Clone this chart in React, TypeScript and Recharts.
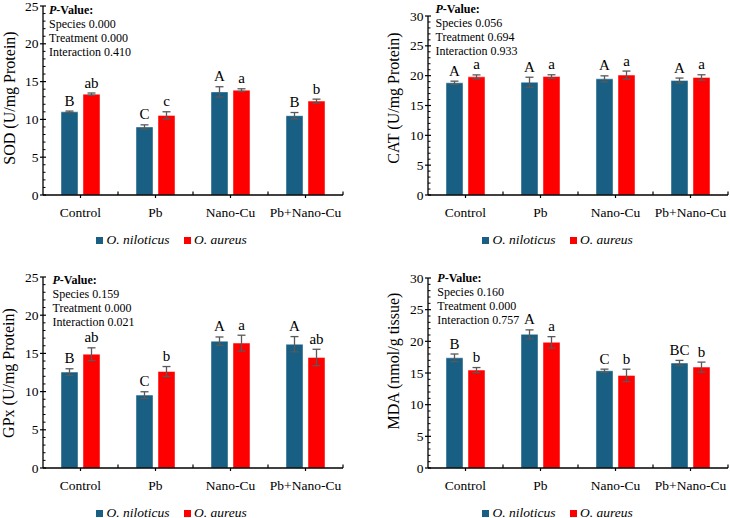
import React from 'react';
import { BarChart, Bar, XAxis, YAxis, ErrorBar, LabelList, Legend } from 'recharts';

// Treatments and fish species
const treatments = ['Control', 'Pb', 'Nano-Cu', 'Pb+Nano-Cu'];
const speciesNames = ['O. niloticus', 'O. aureus'];

// SOD (U/mg Protein)
const sodNil = [11.0, 9.0, 13.64, 10.49];
const sodNilErr = [0.1, 0.28, 0.68, 0.42];
const sodAur = [13.34, 10.53, 13.87, 12.42];
const sodAurErr = [0.15, 0.48, 0.18, 0.26];
const sodNilSig = ['B', 'C', 'A', 'B'];
const sodAurSig = ['ab', 'c', 'a', 'b'];
const sodP = ['0.000', '0.000', '0.410'];

// CAT (U/mg Protein)
const catNil = [18.8, 18.9, 19.47, 19.18];
const catNilErr = [0.28, 0.84, 0.5, 0.42];
const catAur = [19.8, 19.85, 20.1, 19.7];
const catAurErr = [0.33, 0.3, 0.67, 0.45];
const catNilSig = ['A', 'A', 'A', 'A'];
const catAurSig = ['a', 'a', 'a', 'a'];
const catP = ['0.056', '0.694', '0.933'];

// GPx (U/mg Protein)
const gpxNil = [12.55, 9.54, 16.6, 16.2];
const gpxNilErr = [0.44, 0.44, 0.55, 1.0];
const gpxAur = [14.9, 12.63, 16.35, 14.47];
const gpxAurErr = [0.83, 0.65, 1.03, 1.07];
const gpxNilSig = ['B', 'C', 'A', 'A'];
const gpxAurSig = ['ab', 'b', 'a', 'ab'];
const gpxP = ['0.159', '0.000', '0.021'];

// MDA (nmol/g tissue)
const mdaNil = [17.4, 21.1, 15.35, 16.57];
const mdaNilErr = [0.6, 0.71, 0.26, 0.42];
const mdaAur = [15.46, 19.84, 14.62, 15.93];
const mdaAurErr = [0.4, 0.9, 0.98, 0.79];
const mdaNilSig = ['B', 'A', 'C', 'BC'];
const mdaAurSig = ['b', 'a', 'b', 'b'];
const mdaP = ['0.160', '0.000', '0.757'];

// Y axis major tick labels
const ticks25 = [0, 5, 10, 15, 20, 25];
const ticks30 = [0, 5, 10, 15, 20, 25, 30];
const pLabels = ['Species', 'Treatment', 'Interaction'];

const BLUE = '#185F83';
const RED = '#FF0000';
const ERR = '#595959';
const FONT = '"Liberation Serif", "Times New Roman", serif';

const withMinor = (major: number[]) => {
  const max = major[major.length - 1];
  const out: number[] = [];
  for (let v = 0; v <= max; v += 1) out.push(v);
  return out;
};

type PanelCfg = {
  left: number;
  top: number;
  width: number;
  height: number;
  margin: { top: number; right: number; bottom: number; left: number };
  yWidth: number;
  yMajor: number[];
  yLabel: string;
  yLabelPos: [number, number];
  legendPos: [number, number];
  pPos: [number, number];
  pValues: string[];
  nil: number[];
  nilErr: number[];
  nilSig: string[];
  aur: number[];
  aurErr: number[];
  aurSig: string[];
};

const panels: PanelCfg[] = [
  {
    left: 0, top: 0, width: 365, height: 250,
    margin: { top: 6, right: 22, bottom: 25, left: 0 }, yWidth: 43,
    yMajor: ticks25, yLabel: 'SOD (U/mg Protein)', yLabelPos: [9, 98],
    legendPos: [96, 231], pPos: [49, 3], pValues: sodP,
    nil: sodNil, nilErr: sodNilErr, nilSig: sodNilSig,
    aur: sodAur, aurErr: sodAurErr, aurSig: sodAurSig,
  },
  {
    left: 365, top: 0, width: 365, height: 250,
    margin: { top: 16, right: 2, bottom: 25, left: 0 }, yWidth: 63,
    yMajor: ticks30, yLabel: 'CAT (U/mg Protein)', yLabelPos: [28, 98],
    legendPos: [117, 231], pPos: [70.5, 2], pValues: catP,
    nil: catNil, nilErr: catNilErr, nilSig: catNilSig,
    aur: catAur, aurErr: catAurErr, aurSig: catAurSig,
  },
  {
    left: 0, top: 255, width: 365, height: 263,
    margin: { top: 22, right: 22, bottom: 20, left: 0 }, yWidth: 43,
    yMajor: ticks25, yLabel: 'GPx (U/mg Protein)', yLabelPos: [8.5, 118],
    legendPos: [96, 249], pPos: [52.5, 18], pValues: gpxP,
    nil: gpxNil, nilErr: gpxNilErr, nilSig: gpxNilSig,
    aur: gpxAur, aurErr: gpxAurErr, aurSig: gpxAurSig,
  },
  {
    left: 365, top: 255, width: 365, height: 263,
    margin: { top: 23, right: 2, bottom: 20, left: 0 }, yWidth: 63,
    yMajor: ticks30, yLabel: 'MDA (nmol/g tissue)', yLabelPos: [28, 106],
    legendPos: [117, 249], pPos: [72.3, 15.7], pValues: mdaP,
    nil: mdaNil, nilErr: mdaNilErr, nilSig: mdaNilSig,
    aur: mdaAur, aurErr: mdaAurErr, aurSig: mdaAurSig,
  },
];

const YTick = (props: any) => {
  const { x, y, payload } = props;
  const v = Number(payload.value);
  if (v % 5 === 0) {
    return (
      <g>
        <line x1={x - 3} x2={x + 3} y1={y} y2={y} stroke="#000" strokeWidth={1.2} />
        <text x={x - 4.5} y={y} dy="0.34em" textAnchor="end" fontSize={13.5} fontFamily={FONT} fill="#000">
          {v}
        </text>
      </g>
    );
  }
  return <line x1={x} x2={x + 2.5} y1={y} y2={y} stroke="#000" strokeWidth={1} />;
};

const XTick = (props: any) => {
  const { x, y, payload } = props;
  const half = typeof payload.offset === 'number' && payload.offset > 0 ? payload.offset : 37.5;
  return (
    <g>
      <line x1={x} x2={x} y1={y} y2={y + 3} stroke="#000" strokeWidth={1.2} />
      <line x1={x + half} x2={x + half} y1={y} y2={y - 3.5} stroke="#000" strokeWidth={1.2} />
      <text x={x} y={y + 21.5} textAnchor="middle" fontSize={13.5} fontFamily={FONT} fill="#000">
        {payload.value}
      </text>
    </g>
  );
};

const sigLabel = (vals: number[], errs: number[], sigs: string[]) => (p: any) => {
  const x = Number(p.x);
  const y = Number(p.y);
  const w = Number(p.width);
  const h = Number(p.height);
  const i = p.index;
  const perUnit = h / vals[i];
  const top = y - errs[i] * perUnit;
  return (
    <text x={x + w / 2} y={top - 5.5} textAnchor="middle" fontSize={15} fontFamily={FONT} fill="#000">
      {sigs[i]}
    </text>
  );
};

const LegendContent = (props: any) => {
  const items = [...(props.payload || [])].sort(
    (a: any, b: any) => speciesNames.indexOf(a.value) - speciesNames.indexOf(b.value)
  );
  return (
    <div style={{ display: 'flex', alignItems: 'center', height: 18, fontFamily: FONT, fontSize: 13.5, fontStyle: 'italic', whiteSpace: 'nowrap' }}>
      {items.map((it: any, k: number) => (
        <div key={k} style={{ display: 'flex', alignItems: 'center', marginRight: 14 }}>
          <span style={{ display: 'inline-block', width: 7, height: 7, background: it.color, marginRight: 3.5 }} />
          <span style={{ color: '#000', fontFamily: FONT }}>{it.value}</span>
        </div>
      ))}
    </div>
  );
};

const Panel = ({ cfg }: { cfg: PanelCfg }) => {
  const data = treatments.map((t, i) => ({
    treatment: t,
    nil: cfg.nil[i],
    nilErr: cfg.nilErr[i],
    nilSig: cfg.nilSig[i],
    aur: cfg.aur[i],
    aurErr: cfg.aurErr[i],
    aurSig: cfg.aurSig[i],
  }));
  const max = cfg.yMajor[cfg.yMajor.length - 1];
  return (
    <div style={{ position: 'absolute', left: cfg.left, top: cfg.top, width: cfg.width, height: cfg.height }}>
      <BarChart
        width={cfg.width}
        height={cfg.height}
        data={data}
        margin={cfg.margin}
        barCategoryGap="24%"
        barGap={5}
      >
        <XAxis
          dataKey="treatment"
          height={30}
          tickLine={false}
          tickSize={0}
          tickMargin={0}
          interval={0}
          axisLine={{ stroke: '#000', strokeWidth: 1.3 }}
          tick={<XTick />}
        />
        <YAxis
          width={cfg.yWidth}
          type="number"
          domain={[0, max]}
          ticks={withMinor(cfg.yMajor)}
          interval={0}
          tickLine={false}
          tickSize={0}
          tickMargin={0}
          axisLine={{ stroke: '#000', strokeWidth: 1.3 }}
          tick={<YTick />}
          label={{
            content: () => (
              <text
                x={cfg.yLabelPos[0]}
                y={cfg.yLabelPos[1]}
                transform={`rotate(-90 ${cfg.yLabelPos[0]} ${cfg.yLabelPos[1]})`}
                textAnchor="middle"
                dominantBaseline="central"
                fontSize={16}
                fontFamily={FONT}
                fill="#000"
              >
                {cfg.yLabel}
              </text>
            ),
          }}
        />
        <Legend
          layout="horizontal"
          verticalAlign="middle"
          align="center"
          wrapperStyle={{ top: cfg.legendPos[1], left: cfg.legendPos[0], width: 220, height: 18 }}
          content={<LegendContent />}
        />
        <Bar dataKey="nil" name={speciesNames[0]} fill={BLUE} stroke="#ffffff" strokeOpacity={0.45} strokeWidth={1} isAnimationActive={false}>
          <ErrorBar dataKey="nilErr" width={4} stroke={ERR} strokeWidth={1.3} direction="y" isAnimationActive={false} />
          <LabelList dataKey="nilSig" content={sigLabel(cfg.nil, cfg.nilErr, cfg.nilSig)} />
        </Bar>
        <Bar dataKey="aur" name={speciesNames[1]} fill={RED} stroke="#ffffff" strokeOpacity={0.45} strokeWidth={1} isAnimationActive={false}>
          <ErrorBar dataKey="aurErr" width={4} stroke={ERR} strokeWidth={1.3} direction="y" isAnimationActive={false} />
          <LabelList dataKey="aurSig" content={sigLabel(cfg.aur, cfg.aurErr, cfg.aurSig)} />
        </Bar>
      </BarChart>
      <div
        style={{
          position: 'absolute',
          left: cfg.pPos[0],
          top: cfg.pPos[1],
          fontFamily: FONT,
          fontSize: 12,
          lineHeight: '14px',
          color: '#000',
          whiteSpace: 'nowrap',
        }}
      >
        <div style={{ fontWeight: 'bold' }}>
          <i>P</i>-Value:
        </div>
        {pLabels.map((l, i) => (
          <div key={l}>
            {l} {cfg.pValues[i]}
          </div>
        ))}
      </div>
    </div>
  );
};

export default function App() {
  return (
    <div style={{ position: 'absolute', left: 0, top: 0, width: 730, height: 518, background: '#fff' }}>
      {panels.map((p, i) => (
        <Panel key={i} cfg={p} />
      ))}
    </div>
  );
}
